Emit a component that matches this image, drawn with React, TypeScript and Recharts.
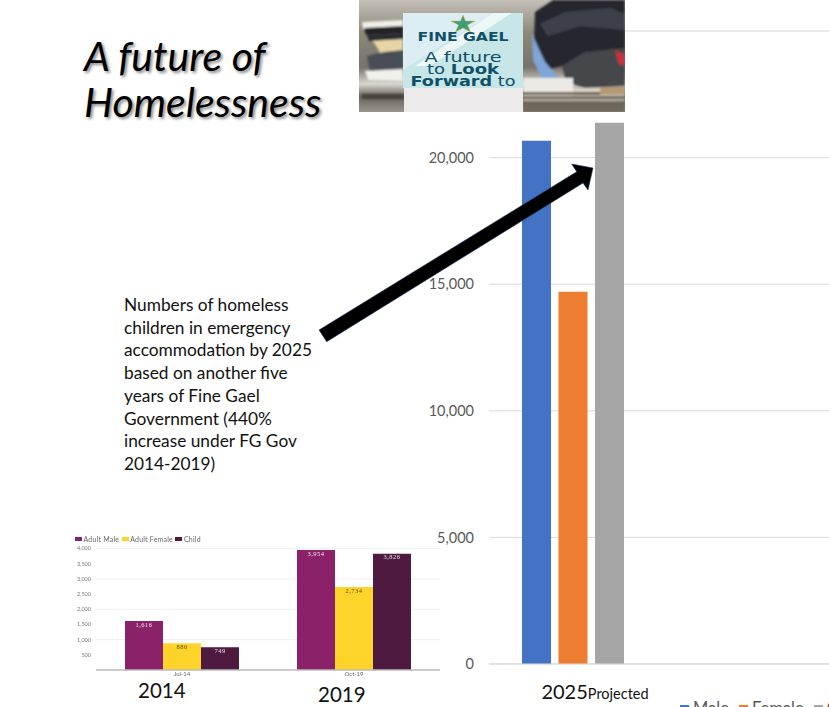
import { Bar, BarChart, CartesianGrid, LabelList, Legend, XAxis, YAxis } from 'recharts';

const BODY_FONT = 'Lato, "Open Sans", sans-serif';

// main chart, projected numbers
const MAIN_CATEGORIES = ['2025'];
const MAIN_MALE = [20670];
const MAIN_FEMALE = [14700];
const MAIN_CHILD = [21380];
const MAIN_TICKS = [0, 5000, 10000, 15000, 20000, 25000];

// pasted-in small chart
const SMALL_CATEGORIES = ['Jul-14', 'Oct-19'];
const SMALL_MALE = [1616, 3954];
const SMALL_FEMALE = [880, 2734];
const SMALL_CHILD = [749, 3826];
const SMALL_TICKS = [500, 1000, 1500, 2000, 2500, 3000, 3500, 4000];

const TITLE_LINES = ['A future of', 'Homelessness'];
const NOTE_LINES = [
  'Numbers of homeless',
  'children in emergency',
  'accommodation by 2025',
  'based on another five',
  'years of Fine Gael',
  'Government (440%',
  'increase under FG Gov',
  '2014-2019)',
];

const mainData = MAIN_CATEGORIES.map((name, i) => ({
  name,
  male: MAIN_MALE[i],
  female: MAIN_FEMALE[i],
  child: MAIN_CHILD[i],
}));

const smallData = SMALL_CATEGORIES.map((name, i) => ({
  name,
  male: SMALL_MALE[i],
  female: SMALL_FEMALE[i],
  child: SMALL_CHILD[i],
}));

const formatNumber = (v: any) => Number(v).toLocaleString('en-US');

function YearTick({ x, y, payload }: any) {
  return (
    <text x={x + 22} y={y + 27} textAnchor="middle" fontFamily={BODY_FONT} fill="#111">
      <tspan fontSize={20}>{payload.value}</tspan>
      <tspan fontSize={14.5}>Projected</tspan>
    </text>
  );
}

function SmallLegend({ payload }: any) {
  return (
    <div style={{ display: 'flex', fontSize: 7, letterSpacing: 0.2, lineHeight: '8px', fontFamily: BODY_FONT, color: '#666' }}>
      {payload.map((p: any) => (
        <div key={p.dataKey} style={{ display: 'flex', alignItems: 'center', marginRight: 2.5 }}>
          <span style={{ width: 7, height: 4, marginRight: 1.5, background: p.color }} />
          {p.value}
        </div>
      ))}
    </div>
  );
}

function MainChart() {
  return (
    <div style={{ position: 'absolute', left: 0, top: 0 }}>
      <BarChart
        width={829}
        height={728}
        data={mainData}
        barSize={29}
        barGap={7.5}
        margin={{ top: 31, right: 0, bottom: 0, left: 409 }}
      >
        <CartesianGrid vertical={false} stroke="#d9d9d9" />
        <XAxis
          dataKey="name"
          height={34}
          padding={{ left: 0, right: 172 }}
          tickLine={false}
          axisLine={{ stroke: '#d9d9d9' }}
          tick={<YearTick />}
        />
        <YAxis
          width={80}
          domain={[0, 25000]}
          ticks={MAIN_TICKS}
          tickLine={false}
          axisLine={false}
          tickSize={0}
          tickMargin={15}
          tickFormatter={formatNumber}
          tick={{ fontSize: 14.5, fill: '#595959', fontFamily: BODY_FONT }}
        />
        <Legend
          height={30}
          iconType="square"
          iconSize={9}
          itemSorter={null}
          wrapperStyle={{ left: 677, width: 200, textAlign: 'left', fontSize: 16.5, fontFamily: BODY_FONT }}
          formatter={(value: string) => <span style={{ color: '#595959' }}>{value}</span>}
        />
        <Bar dataKey="male" name="Male" fill="#4472c4" isAnimationActive={false} />
        <Bar dataKey="female" name="Female" fill="#ed7d31" isAnimationActive={false} />
        <Bar dataKey="child" name="Child" fill="#a5a5a5" isAnimationActive={false} />
      </BarChart>
    </div>
  );
}

function SmallChart() {
  return (
    <div style={{ position: 'absolute', left: 60, top: 530, filter: 'blur(0.5px)' }}>
      <BarChart
        width={380}
        height={156}
        data={smallData}
        barSize={38}
        barGap={0}
        margin={{ top: 4, right: 0, bottom: 0, left: 0 }}
      >
        <CartesianGrid vertical={false} stroke="#f0f0f0" />
        <XAxis
          dataKey="name"
          height={16}
          tickLine={false}
          tickSize={0}
          tickMargin={2}
          axisLine={{ stroke: '#bdbdbd', strokeWidth: 1.5 }}
          tick={{ fontSize: 6, fill: '#666', fontFamily: BODY_FONT }}
        />
        <YAxis
          width={36}
          domain={[0, 4000]}
          ticks={SMALL_TICKS}
          tickLine={false}
          axisLine={false}
          tickSize={0}
          tickMargin={5}
          tickFormatter={formatNumber}
          tick={{ fontSize: 5.5, fill: '#777', fontFamily: BODY_FONT }}
        />
        <Legend
          verticalAlign="top"
          height={14.5}
          itemSorter={null}
          content={<SmallLegend />}
          wrapperStyle={{ left: 15, top: 5, width: 200 }}
        />
        <Bar dataKey="male" name="Adult Male" fill="#8b2269" isAnimationActive={false}>
          <LabelList dataKey="male" position="insideTop" offset={1} fontSize={6.5} letterSpacing={0.5} fill="#f3e3ee" formatter={formatNumber} />
        </Bar>
        <Bar dataKey="female" name="Adult Female" fill="#ffd42a" isAnimationActive={false}>
          <LabelList dataKey="female" position="insideTop" offset={1} fontSize={6.5} letterSpacing={0.5} fill="#5a4a10" formatter={formatNumber} />
        </Bar>
        <Bar dataKey="child" name="Child" fill="#4f1a40" isAnimationActive={false}>
          <LabelList dataKey="child" position="insideTop" offset={1} fontSize={6.5} letterSpacing={0.5} fill="#eadfe7" formatter={formatNumber} />
        </Bar>
      </BarChart>
    </div>
  );
}

// rough stand-in for the campaign poster photo at the top
function Poster() {
  const teal = '#0f5066';
  return (
    <svg width={266} height={112} viewBox="359 0 266 112" style={{ position: 'absolute', left: 359, top: 0 }}>
      <defs>
        <linearGradient id="street" x1="0" y1="0" x2="0" y2="1">
          <stop offset="0%" stopColor="#c4c0b8" />
          <stop offset="30%" stopColor="#8b8778" />
          <stop offset="60%" stopColor="#77736a" />
          <stop offset="75%" stopColor="#d8d6d0" />
          <stop offset="86%" stopColor="#67625a" />
          <stop offset="100%" stopColor="#9a958c" />
        </linearGradient>
        <filter id="soft">
          <feGaussianBlur stdDeviation="1" />
        </filter>
      </defs>
      <rect x={359} y={0} width={266} height={112} fill="url(#street)" />
      <g filter="url(#soft)">
        {/* trainer */}
        <path d="M370 36 L403 34 L403 56 L382 56 Z" fill="#e6d5a6" />
        <path d="M362 22 L403 20 L403 27 L363 29 Z" fill="#efefe8" />
        <path d="M364 28 L403 26 L403 33 L366 35 Z" fill="#222226" />
        <path d="M367 35 L403 33 L403 39 L369 41 Z" fill="#2c2c30" />
        <path d="M367 56 L384 52 L403 50 L403 70 L370 72 Z" fill="#4a4d54" />
        <path d="M365 71 L403 69 L403 81 L368 80 Z" fill="#f0f0ec" />
        <rect x={362} y={94} width={42} height={5} fill="#47433c" />
        {/* bags */}
        <path d="M535 12 L553 0 L625 0 L625 58 L580 62 L545 70 L534 40 Z" fill="#25282e" />
        <path d="M540 24 L565 12 L610 8 L625 14 L625 30 L580 26 L548 36 Z" fill="#3e4148" />
        <path d="M532 34 L545 62 L565 85 L545 85 L533 60 Z" fill="#7fa6d8" />
        <path d="M562 66 L585 52 L625 48 L625 86 L585 88 L566 82 Z" fill="#45464c" />
        <path d="M615 50 L625 55 L625 66 L619 64 Z" fill="#c8323c" />
        <rect x={523} y={78} width={50} height={18} fill="#eceae4" />
        <rect x={573} y={88} width={52} height={8} fill="#d9d4c8" />
        <rect x={465} y={92} width={160} height={3} fill="#6b5a44" />
        <rect x={600} y={87} width={25} height={8} fill="#b59b74" />
        <rect x={523} y={97} width={102} height={15} fill="#6e685c" />
        <rect x={523} y={99} width={102} height={2} fill="#b7b2a6" />
      </g>
      {/* card */}
      <rect x={404} y={88} width={119} height={24} fill="#eceaea" />
      <rect x={403} y={13} width={120} height={75} fill="#c6e6e8" />
      <path d="M403 13 L493 13 L403 70 Z" fill="#dcedf4" />
      <path d="M493 13 L512 13 L430 66 L415 66 Z" fill="#eef7f8" />
      <path
        d="M463 15 L465.5 21 L475 21 L467.5 25 L470.5 32 L463 28 L455.5 32 L458.5 25 L451 21 L460.5 21 Z"
        fill="#3f9d78"
        stroke="#e0b040"
        strokeWidth={0.5}
      />
      <g fontFamily='"DejaVu Sans", sans-serif' fill={teal} textAnchor="middle">
        <text x={463} y={41} fontSize={13} fontWeight={700} textLength={91} lengthAdjust="spacingAndGlyphs">FINE GAEL</text>
        <text x={463} y={62} fontSize={14} textLength={77} lengthAdjust="spacingAndGlyphs">A future</text>
        <text x={463} y={73.5} fontSize={14} textLength={72} lengthAdjust="spacingAndGlyphs">
          to <tspan fontWeight={700}>Look</tspan>
        </text>
        <text x={463} y={85.5} fontSize={14} textLength={105} lengthAdjust="spacingAndGlyphs">
          <tspan fontWeight={700}>Forward</tspan> to
        </text>
      </g>
    </svg>
  );
}

function Arrow() {
  return (
    <svg width={829} height={707} style={{ position: 'absolute', left: 0, top: 0, pointerEvents: 'none' }}>
      <polygon
        points="319,330 326.7,341.7 583,183 588,190 593,168 571.7,164 576.7,171.7"
        fill="#000"
        stroke="#1f3a5f"
        strokeWidth={0.6}
      />
    </svg>
  );
}

function Caption({ text, left, top }: { text: string; left: number; top: number }) {
  return (
    <div style={{ position: 'absolute', left, top, fontFamily: BODY_FONT, fontSize: 20.5, lineHeight: '24px', color: '#111' }}>
      {text}
    </div>
  );
}

export default function App() {
  return (
    <div
      style={{
        position: 'absolute',
        left: 0,
        top: 0,
        width: 829,
        height: 707,
        overflow: 'hidden',
        background: '#fff',
      }}
    >
      <MainChart />
      <SmallChart />
      <Poster />
      <Arrow />
      <div
        style={{
          position: 'absolute',
          left: 84,
          top: 33,
          fontFamily: BODY_FONT,
          fontStyle: 'italic',
          fontSize: 41,
          lineHeight: '46px',
          color: '#000',
          whiteSpace: 'nowrap',
          textShadow: '2px 2px 3px #8a8a8a',
        }}
      >
        {TITLE_LINES.map((line) => (
          <div key={line}>{line}</div>
        ))}
      </div>
      <div
        style={{
          position: 'absolute',
          left: 124,
          top: 294,
          fontFamily: BODY_FONT,
          fontSize: 17.3,
          lineHeight: '22.7px',
          color: '#111',
          whiteSpace: 'nowrap',
        }}
      >
        {NOTE_LINES.map((line) => (
          <div key={line}>{line}</div>
        ))}
      </div>
      <Caption text="2014" left={138} top={678} />
      <Caption text="2019" left={318} top={682} />
    </div>
  );
}
